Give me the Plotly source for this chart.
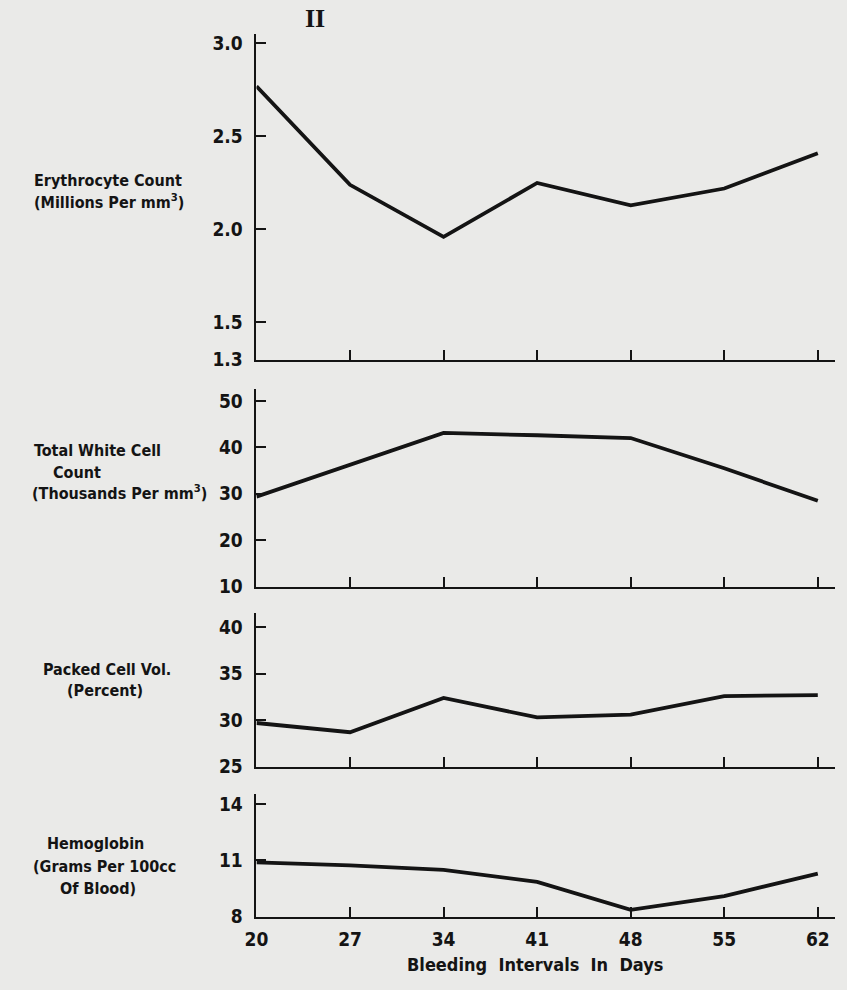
import plotly.graph_objects as go

# ---- data ----
days = [20, 27, 34, 41, 48, 55, 62]
erythrocyte = [2.77, 2.24, 1.96, 2.25, 2.13, 2.22, 2.41]
white_cells = [29.4, 36.2, 43.1, 42.6, 42.0, 35.5, 28.5]
packed_cell = [29.7, 28.7, 32.4, 30.3, 30.6, 32.6, 32.7]
hemoglobin = [10.9, 10.74, 10.5, 9.86, 8.37, 9.1, 10.3]

ery_ticks = [1.3, 1.5, 2.0, 2.5, 3.0]
ery_ticktext = ["1.3", "1.5", "2.0", "2.5", "3.0"]
wbc_ticks = [10, 20, 30, 40, 50]
pcv_ticks = [25, 30, 35, 40]
hb_ticks = [8, 11, 14]
x_ticks = days

W, H = 847, 990


def px(x):
    return x / W


def py(y):
    return 1 - y / H


BG = "#eaeae8"
INK = "#141414"
SANS = "Liberation Sans Narrow, DejaVu Sans Condensed, Roboto, Liberation Sans, Arial"
TICKFONT = dict(family=SANS, size=19, color=INK, weight="bold")
LABELFONT = dict(family=SANS, size=16, color=INK, weight="bold")

fig = go.Figure()
series = [erythrocyte, white_cells, packed_cell, hemoglobin]
for i, s in enumerate(series):
    suffix = "" if i == 0 else str(i + 1)
    fig.add_trace(go.Scatter(x=days, y=s, mode="lines",
                             line=dict(color=INK, width=3.8),
                             xaxis="x" + suffix, yaxis="y" + suffix,
                             showlegend=False, hoverinfo="skip"))

# panel geometry in pixels (top, bottom) and y ranges
panels = [
    (33, 363, [1.3, 3.053], ery_ticks, ery_ticktext),
    (393, 593, [10, 52.5], wbc_ticks, [str(v) for v in wbc_ticks]),
    (620, 775, [25, 41.5], pcv_ticks, [str(v) for v in pcv_ticks]),
    (803, 927, [8, 14.53], hb_ticks, [str(v) for v in hb_ticks]),
]

layout = dict(
    width=W, height=H,
    margin=dict(l=0, r=0, t=0, b=0),
    paper_bgcolor=BG, plot_bgcolor=BG,
    showlegend=False,
)

for i, (top, bot, yr, tv, tt) in enumerate(panels):
    suffix = "" if i == 0 else str(i + 1)
    layout["xaxis" + suffix] = dict(
        domain=[px(248), px(835)], range=[20, 63.3],
        anchor="y" + suffix,
        showline=True, linewidth=2, linecolor=INK, mirror=False,
        showgrid=False, zeroline=False,
        ticks="inside", ticklen=10, tickwidth=2, tickcolor=INK,
        tickvals=x_ticks, ticktext=[str(v) for v in x_ticks],
        showticklabels=(i == 3), tickfont=TICKFONT, ticklabelstandoff=4,
    )
    layout["yaxis" + suffix] = dict(
        domain=[py(bot), py(top)], range=yr,
        anchor="x" + suffix,
        showline=True, linewidth=2, linecolor=INK,
        showgrid=False, zeroline=False,
        ticks="inside", ticklen=10, tickwidth=2, tickcolor=INK,
        tickvals=tv, ticktext=tt, tickfont=TICKFONT, ticklabelstandoff=8,
    )

fig.update_layout(**layout)

annotations = [
    # title numeral
    dict(text="II", x=px(307), y=py(18), xanchor="center", yanchor="middle",
         font=dict(family="Liberation Serif, DejaVu Serif, serif", size=26, color=INK, weight="bold")),
    # panel 1 label
    dict(text="Erythrocyte Count", x=px(20), y=py(182), xanchor="left", yanchor="middle", font=LABELFONT),
    dict(text="(Millions Per mm<sup>3</sup>)", x=px(20), y=py(203), xanchor="left", yanchor="middle", font=LABELFONT),
    # panel 2 label
    dict(text="Total White Cell", x=px(20), y=py(455), xanchor="left", yanchor="middle", font=LABELFONT),
    dict(text="Count", x=px(40), y=py(477), xanchor="left", yanchor="middle", font=LABELFONT),
    dict(text="(Thousands Per mm<sup>3</sup>)", x=px(18), y=py(498), xanchor="left", yanchor="middle", font=LABELFONT),
    # panel 3 label
    dict(text="Packed Cell Vol.", x=px(96), y=py(677), xanchor="center", yanchor="middle", font=LABELFONT),
    dict(text="(Percent)", x=px(94), y=py(698), xanchor="center", yanchor="middle", font=LABELFONT),
    # panel 4 label
    dict(text="Hemoglobin", x=px(85), y=py(853), xanchor="center", yanchor="middle", font=LABELFONT),
    dict(text="(Grams Per 100cc", x=px(94), y=py(876), xanchor="center", yanchor="middle", font=LABELFONT),
    dict(text="Of Blood)", x=px(87), y=py(898), xanchor="center", yanchor="middle", font=LABELFONT),
    # x axis title
    dict(text="Bleeding  Intervals  In  Days", x=px(531), y=py(975), xanchor="center", yanchor="middle",
         font=dict(family=SANS, size=18, color=INK, weight="bold")),
]
for a in annotations:
    a.update(xref="paper", yref="paper", showarrow=False)
fig.update_layout(annotations=annotations)

fig.write_html("out.html")
